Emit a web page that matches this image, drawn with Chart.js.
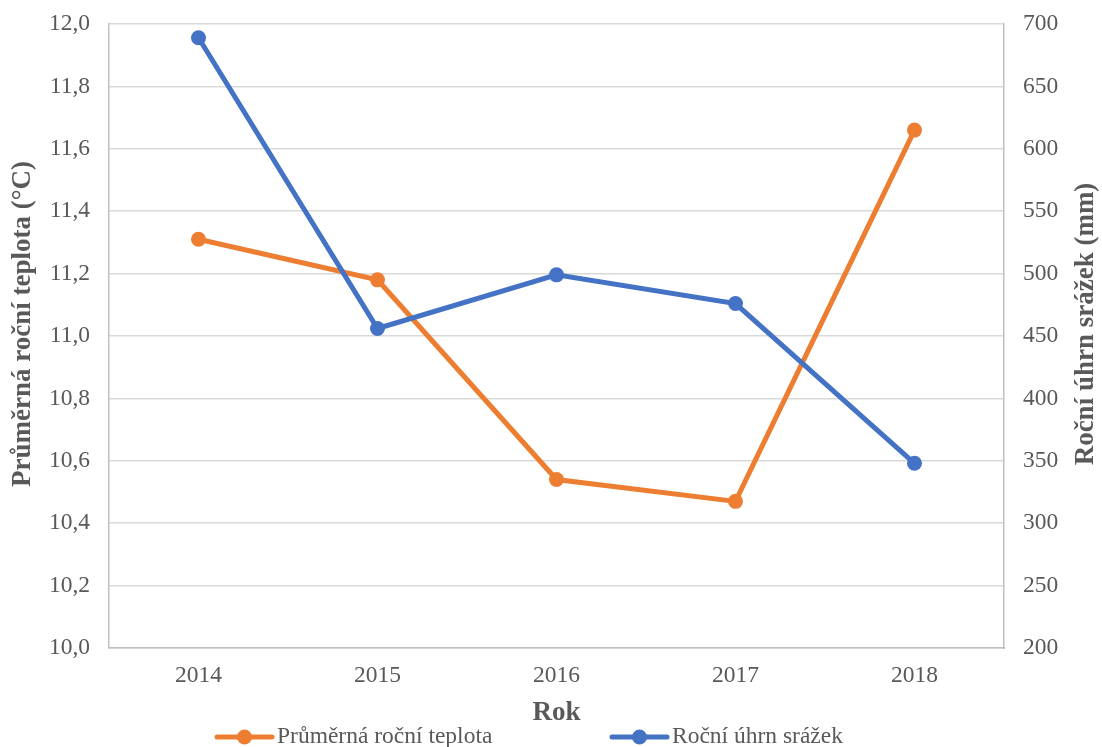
<!DOCTYPE html>
<html>
<head>
<meta charset="utf-8">
<script src="https://cdn.jsdelivr.net/npm/chart.js@4.4.1/dist/chart.umd.min.js"></script>
<style>
html,body{margin:0;padding:0;background:#fff;}
#wrap{width:1102px;height:747px;}
</style>
</head>
<body>
<div id="wrap"><canvas id="c" width="1102" height="747"></canvas></div>
<script>
const years = ['2014', '2015', '2016', '2017', '2018'];
const temperature = [11.31, 11.18, 10.54, 10.47, 11.66];
const precipitation = [689, 456, 499, 476, 348];
const tempLabel = 'Průměrná roční teplota';
const precLabel = 'Roční úhrn srážek';
const xTitle = 'Rok';
const yLeftTitle = 'Průměrná roční teplota (°C)';
const yRightTitle = 'Roční úhrn srážek (mm)';

const ORANGE = '#ED7D31';
const BLUE = '#4472C4';
const FONT = "'Liberation Serif', 'Times New Roman', serif";
const TXT = '#595959';

const titlesAndLegend = {
  id: 'titlesAndLegend',
  afterDraw(chart) {
    const ctx = chart.ctx;
    const ca = chart.chartArea;
    ctx.save();
    ctx.fillStyle = TXT;
    ctx.textBaseline = 'middle';
    ctx.textAlign = 'center';
    ctx.font = "bold 27px " + FONT;
    ctx.fillText(xTitle, (ca.left + ca.right) / 2, 713);
    ctx.save();
    ctx.translate(23, 324);
    ctx.rotate(-Math.PI / 2);
    ctx.fillText(yLeftTitle, 0, 0);
    ctx.restore();
    ctx.save();
    ctx.translate(1086, 324);
    ctx.rotate(-Math.PI / 2);
    ctx.fillText(yRightTitle, 0, 0);
    ctx.restore();
    const items = [
      {ds: chart.data.datasets[0], x: 217},
      {ds: chart.data.datasets[1], x: 612}
    ];
    const ly = 737;
    ctx.font = "23.5px " + FONT;
    ctx.textAlign = 'left';
    items.forEach(it => {
      ctx.strokeStyle = it.ds.borderColor;
      ctx.lineWidth = 5;
      ctx.lineCap = 'round';
      ctx.beginPath();
      ctx.moveTo(it.x, ly);
      ctx.lineTo(it.x + 55, ly);
      ctx.stroke();
      ctx.fillStyle = it.ds.backgroundColor;
      ctx.beginPath();
      ctx.arc(it.x + 27.5, ly, 7.5, 0, Math.PI * 2);
      ctx.fill();
      ctx.fillStyle = TXT;
      ctx.fillText(it.ds.label, it.x + 60, ly);
    });
    ctx.restore();
  }
};

new Chart(document.getElementById('c'), {
  type: 'line',
  data: {
    labels: years,
    datasets: [
      {
        label: tempLabel,
        data: temperature,
        yAxisID: 'y',
        borderColor: ORANGE,
        backgroundColor: ORANGE,
        borderWidth: 5,
        pointRadius: 7.5,
        pointHoverRadius: 7.5,
        pointBorderWidth: 0,
        tension: 0,
        order: 1
      },
      {
        label: precLabel,
        data: precipitation,
        yAxisID: 'y1',
        borderColor: BLUE,
        backgroundColor: BLUE,
        borderWidth: 5,
        pointRadius: 7.5,
        pointHoverRadius: 7.5,
        pointBorderWidth: 0,
        tension: 0,
        order: 0
      }
    ]
  },
  options: {
    responsive: false,
    animation: false,
    devicePixelRatio: 1,
    layout: { padding: { top: 24, left: 0, right: 0, bottom: 0 } },
    plugins: {
      legend: { display: false },
      tooltip: { enabled: false }
    },
    scales: {
      x: {
        offset: true,
        grid: { display: false, drawTicks: false },
        border: { display: true, color: '#bfbfbf', width: 1.5 },
        ticks: { color: TXT, font: { family: FONT, size: 23.5 }, padding: 14, maxRotation: 0 },
        afterFit(scale) { scale.height = 99; }
      },
      y: {
        position: 'left',
        min: 10, max: 12,
        ticks: {
          stepSize: 0.2,
          color: TXT,
          font: { family: FONT, size: 23.5 },
          padding: 19,
          callback: v => v.toFixed(1).replace('.', ',')
        },
        grid: { color: '#d9d9d9', lineWidth: 1.5, drawTicks: false },
        border: { display: true, color: '#bfbfbf', width: 1.5 },
        afterFit(scale) { scale.width = 109; scale.paddingTop = 0; scale.paddingBottom = 0; }
      },
      y1: {
        position: 'right',
        min: 200, max: 700,
        ticks: {
          stepSize: 50,
          color: TXT,
          font: { family: FONT, size: 23.5 },
          padding: 19
        },
        grid: { drawOnChartArea: false, drawTicks: false },
        border: { display: true, color: '#bfbfbf', width: 1.5 },
        afterFit(scale) { scale.width = 98; scale.paddingTop = 0; scale.paddingBottom = 0; }
      }
    }
  },
  plugins: [titlesAndLegend]
});
</script>
</body>
</html>
